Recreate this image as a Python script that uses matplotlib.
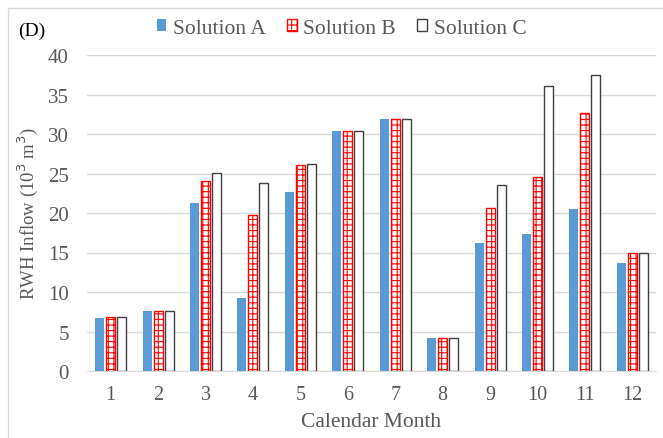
import matplotlib
matplotlib.use("Agg")
import matplotlib.pyplot as plt
import numpy as np
from matplotlib.patches import Rectangle

months = ["1", "2", "3", "4", "5", "6", "7", "8", "9", "10", "11", "12"]
solution_a = [6.7, 7.6, 21.3, 9.2, 22.7, 30.4, 31.9, 4.2, 16.2, 17.3, 20.5, 13.7]
solution_b = [6.8, 7.6, 24.0, 19.8, 26.1, 30.4, 31.9, 4.2, 20.6, 24.5, 32.6, 14.9]
solution_c = [6.8, 7.6, 25.1, 23.8, 26.2, 30.4, 31.9, 4.2, 23.5, 36.1, 37.5, 14.9]

plt.rcParams['font.family'] = ['Liberation Serif', 'DejaVu Serif']
plt.rcParams['hatch.linewidth'] = 0.8
txt = '#595959'

fig = plt.figure(figsize=(6.63, 4.39), dpi=100)
ax = fig.add_axes([87 / 663, 1 - 372 / 439, 569 / 663, 316 / 439])

x = np.arange(len(months))
w = 0.19
step = 0.232
ax.bar(x - step, solution_a, w, color='#5b9bd5', linewidth=0, label='Solution A', zorder=3)
ax.bar(x, solution_b, w, facecolor='white', edgecolor='#ff0000', hatch='+++', linewidth=1.0, label='Solution B', zorder=3)
ax.bar(x + step, solution_c, w, facecolor='white', edgecolor='#404040', linewidth=1.0, label='Solution C', zorder=3)

ax.set_xlim(-0.5, len(months) - 0.5)
ax.set_ylim(0, 40)
ax.set_yticks(range(0, 41, 5))
ax.set_xticks(x)
ax.set_xticklabels(months)
ax.yaxis.grid(True, color='#d9d9d9', linewidth=1, zorder=0)
ax.set_axisbelow(True)
for s in ['top', 'right', 'left']:
    ax.spines[s].set_visible(False)
ax.spines['bottom'].set_color('#d9d9d9')
ax.tick_params(axis='y', length=0, colors=txt, labelsize=15, pad=13)
ax.tick_params(axis='x', length=0, colors=txt, labelsize=14.5, pad=10)
ax.set_xlabel('Calendar Month', fontsize=15.5, color=txt, labelpad=6)
ax.set_ylabel('RWH Inflow (10$^3$ m$^3$)', fontsize=13.5, color=txt, labelpad=6)

fig.legend(*ax.get_legend_handles_labels(), loc='center', bbox_to_anchor=(0.515, 1 - 29 / 439),
           ncol=3, frameon=False, fontsize=15.5, handlelength=0.45, handleheight=0.45,
           handletextpad=0.3, columnspacing=1.0, labelcolor=txt, borderpad=0)

fig.text(18 / 663, 1 - 31 / 439, '(D)', fontsize=14, color='black', ha='left', va='center')

fig.patches.append(Rectangle((8 / 663, -0.02), 1.0, 1 - 9 / 439 + 0.02, transform=fig.transFigure,
                             fill=False, edgecolor='#d9d9d9', linewidth=1))

fig.savefig('out.png', dpi=100)
